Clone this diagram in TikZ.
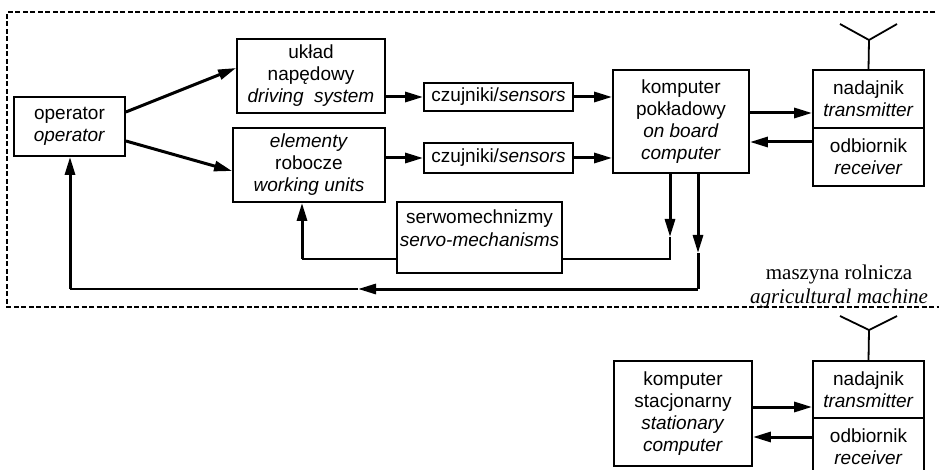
\documentclass[tikz,border=0pt]{standalone}
\usepackage{fontspec}
\setmainfont{Liberation Sans}
\newfontfamily\labelserif{Liberation Serif}
\usetikzlibrary{arrows.meta,calc}
\begin{document}
\begin{tikzpicture}[x=1pt,y=-1pt,
  box/.style={draw,line width=1.8pt,inner sep=0pt,align=center,
    font=\fontsize{19}{22}\selectfont},
  txt/.style={inner sep=0pt,align=center,font=\fontsize{19}{23}\selectfont},
  flow/.style={line width=3pt,-{Triangle[length=18pt,width=10pt]}},
  wire/.style={line width=2.3pt},
  thick wire/.style={line width=3pt},
  frame/.style={line width=2pt,dash pattern=on 5pt off 2.5pt},
  aerial/.style={line width=1.8pt}]
\useasboundingbox (0,0) rectangle (939,470);

% machine boundary
\draw[frame] (935,12) -- (7,12) -- (7,307) -- (939,307);

% on-board blocks
\node[box,minimum width=111pt,minimum height=59pt] (op) at (69.5,126.5)
  {operator\\\textit{operator}};
\node[box,minimum width=148pt,minimum height=74pt] (uk) at (311,76)
  {układ\\napędowy\\\textit{driving\ \ system}};
\node[box,minimum width=152pt,minimum height=74pt] (el) at (309,165)
  {\textit{elementy}\\robocze\\\textit{working units}};
\node[box,minimum width=149pt,minimum height=28pt] (cz1) at (498.5,97)
  {czujniki/\textit{sensors}};
\node[box,minimum width=149pt,minimum height=30pt] (cz2) at (498.5,158)
  {czujniki/\textit{sensors}};
\node[box,minimum width=136pt,minimum height=103pt] (kp) at (681,121.5)
  {komputer\\pokładowy\\\textit{on board}\\\textit{computer}};
\node[box,minimum width=111pt,minimum height=58pt] (nd1) at (868.5,99)
  {nadajnik\\\textit{transmitter}};
\node[box,minimum width=111pt,minimum height=58pt] (od1) at (868.5,157)
  {odbiornik\\\textit{receiver}};
\node[box,minimum width=165pt,minimum height=71pt] (sv) at (479.5,237.5) {};
\node[txt] (svt) at (479.5,228) {serwomechnizmy\\\textit{servo-mechanisms}};

% machine label
\node[inner sep=0pt,align=center,font=\labelserif\fontsize{21}{24}\selectfont]
  (ml) at (839,286) {maszyna rolnicza\\\textit{agricultural machine}};

% aerial of the machine
\coordinate (a1) at (869,40);
\draw[aerial] (nd1.north) -- (a1);
\draw[aerial] (840,24) -- (a1) -- (897,24);

% signal flow on the machine
\draw[flow] (op.east |- 0,112) -- (uk.west |- 0,68);
\draw[flow] (op.east |- 0,141) -- (el.west |- 0,171);
\draw[flow] (uk.east |- cz1) -- (cz1.west);
\draw[flow] (el.east |- cz2) -- (cz2.west);
\draw[flow] (cz1.east) -- (kp.west |- cz1);
\draw[flow] (cz2.east) -- (kp.west |- cz2);
\draw[flow] (kp.east |- 0,113) -- (nd1.west |- 0,113);
\draw[flow] (od1.west |- 0,142) -- (kp.east |- 0,142);

% control loop to the servo-mechanisms
\coordinate (s1) at (670,237);
\coordinate (s2) at (670,259);
\coordinate (s3) at (302,259);
\draw[flow] (kp.south -| s1) -- (s1);
\draw[wire] (s1) -- (s2) -- (sv.east |- s2);
\draw[wire] (sv.west |- s2) -- (s3);
\draw[flow] (s3) -- (el.south -| s3);

% feedback loop to the operator
\coordinate (f1) at (698,253);
\coordinate (f2) at (698,289);
\coordinate (f3) at (358,289);
\coordinate (f4) at (70,289);
\draw[flow] (kp.south -| f1) -- (f1);
\draw[thick wire] (f1) -- (f2);
\draw[flow] (f2) -- (f3);
\draw[wire] (f3) -- (f4);
\draw[flow] (f4) -- (op.south -| f4);

% ground station
\node[box,minimum width=138pt,minimum height=105pt] (st) at (683,413.5)
  {komputer\\stacjonarny\\\textit{stationary}\\\textit{computer}};
\node[box,minimum width=111pt,minimum height=57pt] (nd2) at (868.5,389.5)
  {nadajnik\\\textit{transmitter}};
\node[box,minimum width=111pt,minimum height=58pt] (od2) at (868.5,447)
  {odbiornik\\\textit{receiver}};
\coordinate (a2) at (869,330);
\draw[aerial] (nd2.north) -- (a2);
\draw[aerial] (840,316) -- (a2) -- (897,316);
\draw[flow] (st.east |- 0,407) -- (nd2.west |- 0,407);
\draw[flow] (od2.west |- 0,437) -- (st.east |- 0,437);
\end{tikzpicture}
\end{document}
